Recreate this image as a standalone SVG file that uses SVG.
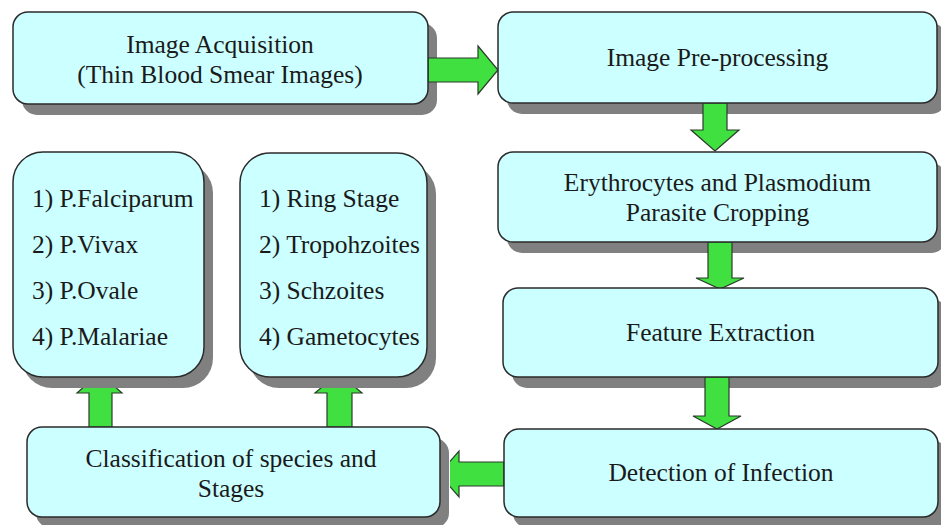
<svg xmlns="http://www.w3.org/2000/svg" width="941" height="525" viewBox="0 0 941 525">
<style>
.sh{fill:#808080}
.bx{fill:#ccffff;stroke:#2b2b2b;stroke-width:1.5}
.ar{fill:#3fe03f;stroke:#2b3b2b;stroke-width:1.2;stroke-linejoin:miter}
text{font-family:"Liberation Serif","Times New Roman",serif;font-size:25.5px;fill:#1a1a1a}
.c{text-anchor:middle}
</style>
<defs>
<clipPath id="clipUp"><rect x="0" y="388" width="941" height="137"/></clipPath>
<clipPath id="clipLeft"><rect x="450" y="0" width="491" height="525"/></clipPath>
</defs>
<rect width="941" height="525" fill="#ffffff"/>
<g id="shadows">
<rect class="sh" x="22" y="23" width="415" height="92" rx="15"/>
<rect class="sh" x="507" y="23" width="439" height="91" rx="15"/>
<rect class="sh" x="507" y="163" width="439" height="90" rx="15"/>
<rect class="sh" x="512" y="299" width="435" height="89" rx="15"/>
<rect class="sh" x="513" y="440" width="434" height="88" rx="15"/>
<rect class="sh" x="36" y="438" width="413" height="90" rx="15"/>
<rect class="sh" x="22" y="163" width="191" height="225" rx="30"/>
<rect class="sh" x="249" y="164" width="187" height="224" rx="30"/>
</g>
<g id="connectors">
<polygon class="ar" points="428,58 478,58 478,46 498,70 478,94 478,82 428,82"/>
<polygon class="ar" points="703,103 727,103 727,130 739,130 715,151 691,130 703,130"/>
<polygon class="ar" points="708,242 732,242 732,278 744,278 720,289 696,278 708,278"/>
<polygon class="ar" points="705,377 729,377 729,416 741,416 717,429 693,416 705,416"/>
<polygon class="ar" clip-path="url(#clipLeft)" points="504,462 504,486 459,486 459,497 439,474 459,451 459,462"/>
<polygon class="ar" clip-path="url(#clipUp)" points="89,427 89,393 77,393 99.5,373 122,393 112,393 112,427"/>
<polygon class="ar" clip-path="url(#clipUp)" points="327,427 327,393 315,393 338.5,373 362,393 352,393 352,427"/>
</g>
<g id="node-acquisition">
<rect class="bx" x="13" y="12" width="415" height="92" rx="15"/>
<text class="c" x="220" y="52.5">Image Acquisition</text>
<text class="c" x="220" y="82.5">(Thin Blood Smear Images)</text>
</g>
<g id="node-preprocessing">
<rect class="bx" x="498" y="12" width="439" height="91" rx="15"/>
<text class="c" x="717.5" y="66">Image Pre-processing</text>
</g>
<g id="node-cropping">
<rect class="bx" x="498" y="152" width="439" height="90" rx="15"/>
<text class="c" x="717.5" y="190.5">Erythrocytes and Plasmodium</text>
<text class="c" x="717.5" y="220.5">Parasite Cropping</text>
</g>
<g id="node-feature">
<rect class="bx" x="503" y="288" width="435" height="89" rx="15"/>
<text class="c" x="720.5" y="341">Feature Extraction</text>
</g>
<g id="node-detection">
<rect class="bx" x="504" y="429" width="434" height="88" rx="15"/>
<text class="c" x="721" y="481">Detection of Infection</text>
</g>
<g id="node-classification">
<rect class="bx" x="27" y="427" width="413" height="90" rx="15"/>
<text class="c" x="231" y="466.5">Classification of species and</text>
<text class="c" x="231" y="496.5">Stages</text>
</g>
<g id="node-species">
<rect class="bx" x="13" y="152" width="191" height="225" rx="30"/>
<text x="32" y="207">1) P.Falciparum</text>
<text x="32" y="253">2) P.Vivax</text>
<text x="32" y="299">3) P.Ovale</text>
<text x="32" y="345">4) P.Malariae</text>
</g>
<g id="node-stages">
<rect class="bx" x="240" y="153" width="187" height="224" rx="30"/>
<text x="259" y="207">1) Ring Stage</text>
<text x="259" y="253">2) Tropohzoites</text>
<text x="259" y="299">3) Schzoites</text>
<text x="259" y="345">4) Gametocytes</text>
</g>
</svg>
